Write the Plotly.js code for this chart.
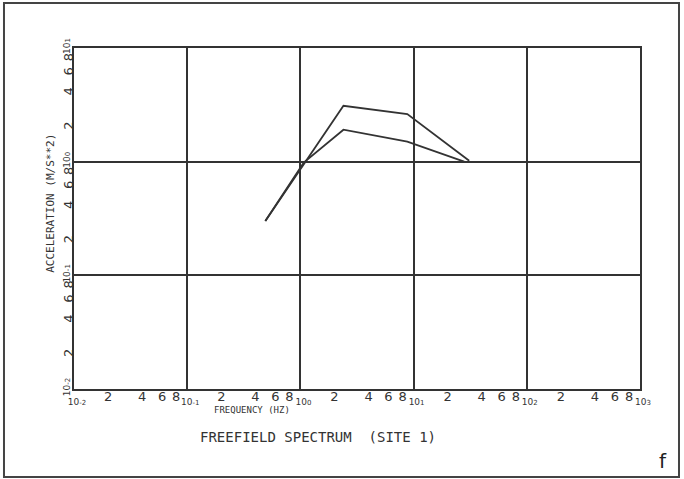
<!DOCTYPE html>
<html>
<head>
<meta charset="utf-8">
<script src="https://cdn.plot.ly/plotly-3.0.1.min.js"></script>
<style>html,body{margin:0;padding:0;background:#fff;}#chart{width:684px;height:479px;}</style>
</head>
<body>
<div id="chart"></div>
<script>
// Data (log-log spectrum)
const upperFreq = [0.49, 2.4, 8.8, 31];
const upperAcc  = [0.30, 3.1, 2.62, 1.02];
const lowerFreq = [0.49, 1.07, 2.4, 8.8, 28];
const lowerAcc  = [0.30, 0.98, 1.91, 1.50, 1.0];

// Tick labels
const xDecadeExps = [-2, -1, 0, 1, 2, 3];
const yDecadeExps = [-2, -1, 0, 1];
const minorMults = [2, 4, 6, 8];
const minorLabels = ['2', '4', '6', '8'];

const INK = '#333333';
const FONT = 'DejaVu Sans Mono, monospace';

function decadeLabel(e) {
  return "<span style='font-size:9px'>10<span style='font-size:7px'>" + (e < 0 ? '-' + (-e) : e) + "</span></span>";
}
function buildMinor(exps) {
  const vals = [], text = [];
  for (let i = 0; i < exps.length - 1; i++) {
    for (let j = 0; j < minorMults.length; j++) {
      vals.push(minorMults[j] * Math.pow(10, exps[i]));
      text.push(minorLabels[j]);
    }
  }
  return {vals, text};
}
const xMinor = buildMinor(xDecadeExps);
const yMinor = buildMinor(yDecadeExps);

const xRange = [xDecadeExps[0], xDecadeExps[xDecadeExps.length - 1]];
const yRange = [yDecadeExps[0], yDecadeExps[yDecadeExps.length - 1]];

const lineStyle = {color: INK, width: 1.8};
const traces = [
  {x: upperFreq, y: upperAcc, type: 'scatter', mode: 'lines', line: lineStyle, xaxis: 'x', yaxis: 'y', hoverinfo: 'skip'},
  {x: lowerFreq, y: lowerAcc, type: 'scatter', mode: 'lines', line: lineStyle, xaxis: 'x2', yaxis: 'y2', hoverinfo: 'skip'}
];

const tickFont = {family: 'DejaVu Sans, sans-serif', size: 13, color: INK};

const layout = {
  width: 684, height: 479,
  margin: {l: 74, r: 44, t: 48, b: 90, pad: 0},
  paper_bgcolor: '#ffffff', plot_bgcolor: '#ffffff',
  showlegend: false,
  xaxis: {
    type: 'log', range: xRange,
    tickmode: 'array',
    tickvals: xDecadeExps.map(e => Math.pow(10, e)),
    ticktext: xDecadeExps.map(decadeLabel),
    showgrid: true, gridcolor: INK, gridwidth: 1.8,
    showline: true, linecolor: INK, linewidth: 2, mirror: true,
    ticks: '', tickfont: tickFont, zeroline: false, ticklabelstandoff: -2, ticklabelshift: 3
  },
  yaxis: {
    type: 'log', range: yRange,
    tickmode: 'array',
    tickvals: yDecadeExps.map(e => Math.pow(10, e)),
    ticktext: yDecadeExps.map(decadeLabel),
    showgrid: true, gridcolor: INK, gridwidth: 1.8,
    showline: true, linecolor: INK, linewidth: 2, mirror: true,
    ticks: '', tickfont: tickFont, tickangle: -90, zeroline: false, ticklabelstandoff: -3
  },
  xaxis2: {
    type: 'log', range: xRange, overlaying: 'x', side: 'bottom',
    tickmode: 'array', tickvals: xMinor.vals, ticktext: xMinor.text,
    showgrid: false, showline: false, ticks: '', tickfont: tickFont, zeroline: false, ticklabelstandoff: -2
  },
  yaxis2: {
    type: 'log', range: yRange, overlaying: 'y', side: 'left',
    tickmode: 'array', tickvals: yMinor.vals, ticktext: yMinor.text,
    showgrid: false, showline: false, ticks: '', tickfont: tickFont, tickangle: -90, zeroline: false, ticklabelstandoff: -3
  },
  annotations: [
    {text: 'FREQUENCY (HZ)', xref: 'paper', yref: 'paper', x: 0.3145, y: -0.063, showarrow: false,
     font: {family: FONT, size: 9, color: INK}, xanchor: 'center', yanchor: 'middle'},
    {text: 'FREEFIELD SPECTRUM  (SITE 1)', xref: 'paper', yref: 'paper', x: 0.431, y: -0.141, showarrow: false,
     font: {family: FONT, size: 14, color: INK}, xanchor: 'center', yanchor: 'middle'},
    {text: 'ACCELERATION (M/S**2)', xref: 'paper', yref: 'paper', x: -0.043, y: 0.545, showarrow: false, textangle: -90,
     font: {family: FONT, size: 11, color: INK}, xanchor: 'center', yanchor: 'middle'},
    {text: 'f', xref: 'paper', yref: 'paper', x: 1.04, y: -0.211, showarrow: false,
     font: {family: 'DejaVu Sans, sans-serif', size: 20, color: '#222'}, xanchor: 'center', yanchor: 'middle'}
  ],
  shapes: [
    {type: 'rect', xref: 'paper', yref: 'paper', x0: -0.1237, x1: 1.0689, y0: -0.258, y1: 1.132,
     line: {color: '#444', width: 2}, fillcolor: 'rgba(0,0,0,0)', layer: 'below'}
  ]
};

Plotly.newPlot('chart', traces, layout, {displayModeBar: false, staticPlot: true});
</script>
</body>
</html>
